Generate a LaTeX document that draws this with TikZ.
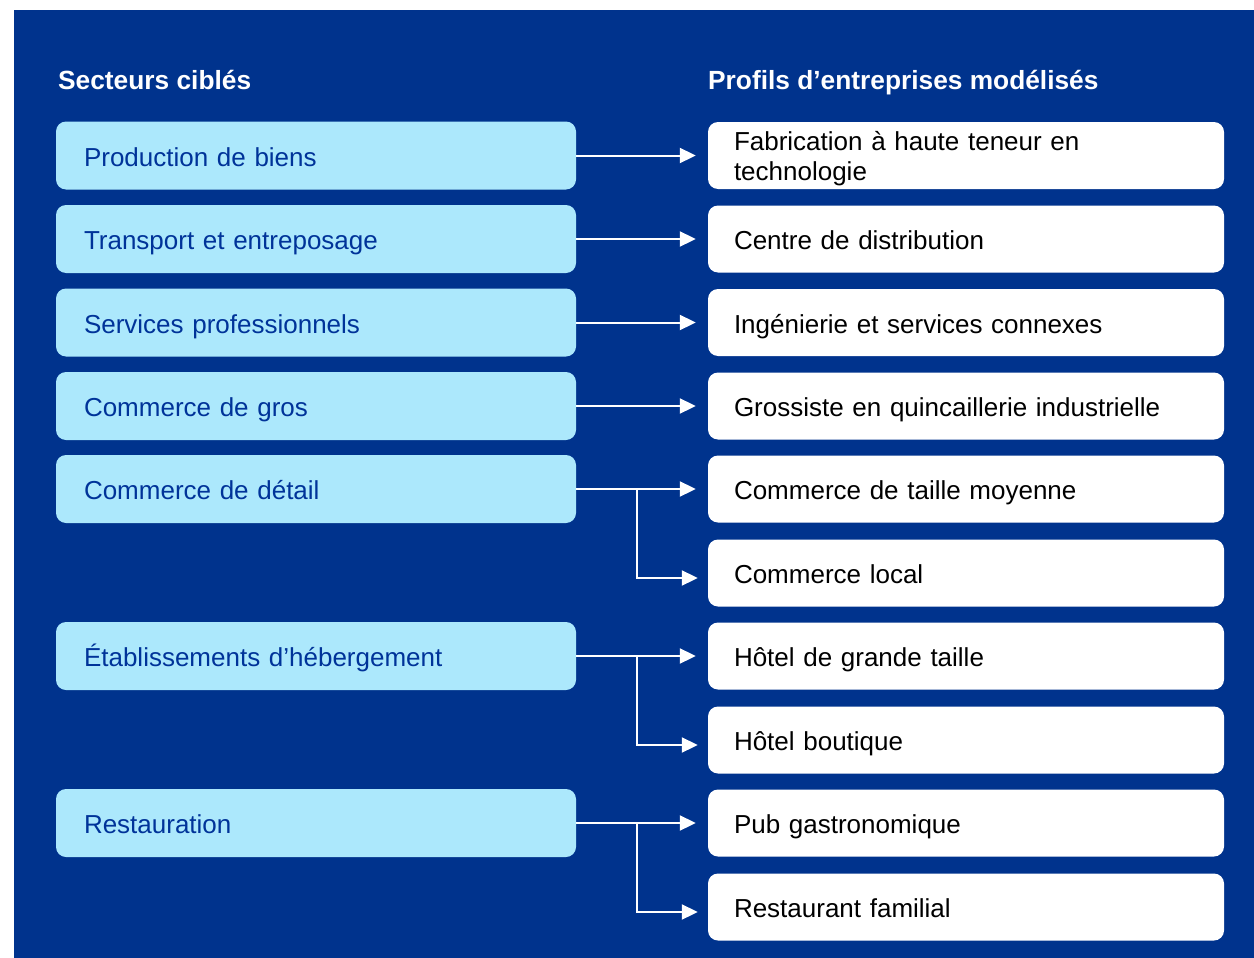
\documentclass[tikz,border=0pt]{standalone}
\usepackage{fontspec}
\setmainfont{Liberation Sans}
\usetikzlibrary{arrows.meta}
\definecolor{bgblue}{RGB}{0,51,141}
\definecolor{lightbox}{RGB}{172,232,252}
\definecolor{darktext}{RGB}{0,51,153}
\tikzset{
  sector/.style={rectangle, rounded corners=10pt, fill=lightbox, text=darktext,
    minimum width=520pt, minimum height=68pt, text width=464pt, inner xsep=28pt,
    align=left, font=\fontsize{26}{30}\selectfont, text height=26pt, text depth=5pt},
  profil/.style={rectangle, rounded corners=10pt, fill=white, text=black,
    minimum width=516pt, minimum height=67pt, text width=464pt, inner xsep=26pt,
    align=left, font=\fontsize{26}{30}\selectfont, text height=26pt, text depth=5pt},
  heading/.style={anchor=base west, text=white, font=\bfseries\fontsize{26.3}{30}\selectfont, inner sep=0pt},
  link/.style={draw=white, line width=2pt, -{Triangle[length=16pt,width=15pt]}, shorten >=12pt}
}
\begin{document}
\begin{tikzpicture}[x=1pt,y=-1pt]
\useasboundingbox[fill=white] (0,0) rectangle (1254,958);
\fill[bgblue] (14,10) rectangle (1254,958);
\node[heading] (h1) at (58,89.5) {Secteurs ciblés};
\node[heading] (h2) at (708,89.5) {Profils d’entreprises modélisés};
% left
\node[sector] (l1) at (316,155.5) {Production de biens};
\node[sector] (l2) at (316,239) {Transport et entreposage};
\node[sector] (l3) at (316,322.5) {Services professionnels};
\node[sector] (l4) at (316,406) {Commerce de gros};
\node[sector] (l5) at (316,489) {Commerce de détail};
\node[sector] (l6) at (316,656) {Établissements d’hébergement};
\node[sector] (l7) at (316,823) {Restauration};
% right
\node[profil, text height=20pt, text depth=29.6pt] (r1) at (966,155.5) {Fabrication à haute teneur en\\technologie};
\node[profil] (r2) at (966,239) {Centre de distribution};
\node[profil] (r3) at (966,322.5) {Ingénierie et services connexes};
\node[profil] (r4) at (966,406) {Grossiste en quincaillerie industrielle};
\node[profil] (r5) at (966,489) {Commerce de taille moyenne};
\node[profil] (r6) at (966,573) {Commerce local};
\node[profil] (r7) at (966,656) {Hôtel de grande taille};
\node[profil] (r8) at (966,740) {Hôtel boutique};
\node[profil] (r9) at (966,823) {Pub gastronomique};
\node[profil] (r10) at (966,907) {Restaurant familial};
% branch points
\coordinate (b5) at (637,489);
\coordinate (b6) at (637,656);
\coordinate (b7) at (637,823);
% connectors
\draw[link] (l1.east) -- (l1.east -| r1.west);
\draw[link] (l2.east) -- (l2.east -| r2.west);
\draw[link] (l3.east) -- (l3.east -| r3.west);
\draw[link] (l4.east) -- (l4.east -| r4.west);
\draw[link] (l5.east) -- (l5.east -| r5.west);
\draw[link, shorten >=10pt] (b5) |- ([yshift=-5pt]r6.west);
\draw[link] (l6.east) -- (l6.east -| r7.west);
\draw[link, shorten >=10pt] (b6) |- ([yshift=-5pt]r8.west);
\draw[link] (l7.east) -- (l7.east -| r9.west);
\draw[link, shorten >=10pt] (b7) |- ([yshift=-5pt]r10.west);
\end{tikzpicture}
\end{document}
